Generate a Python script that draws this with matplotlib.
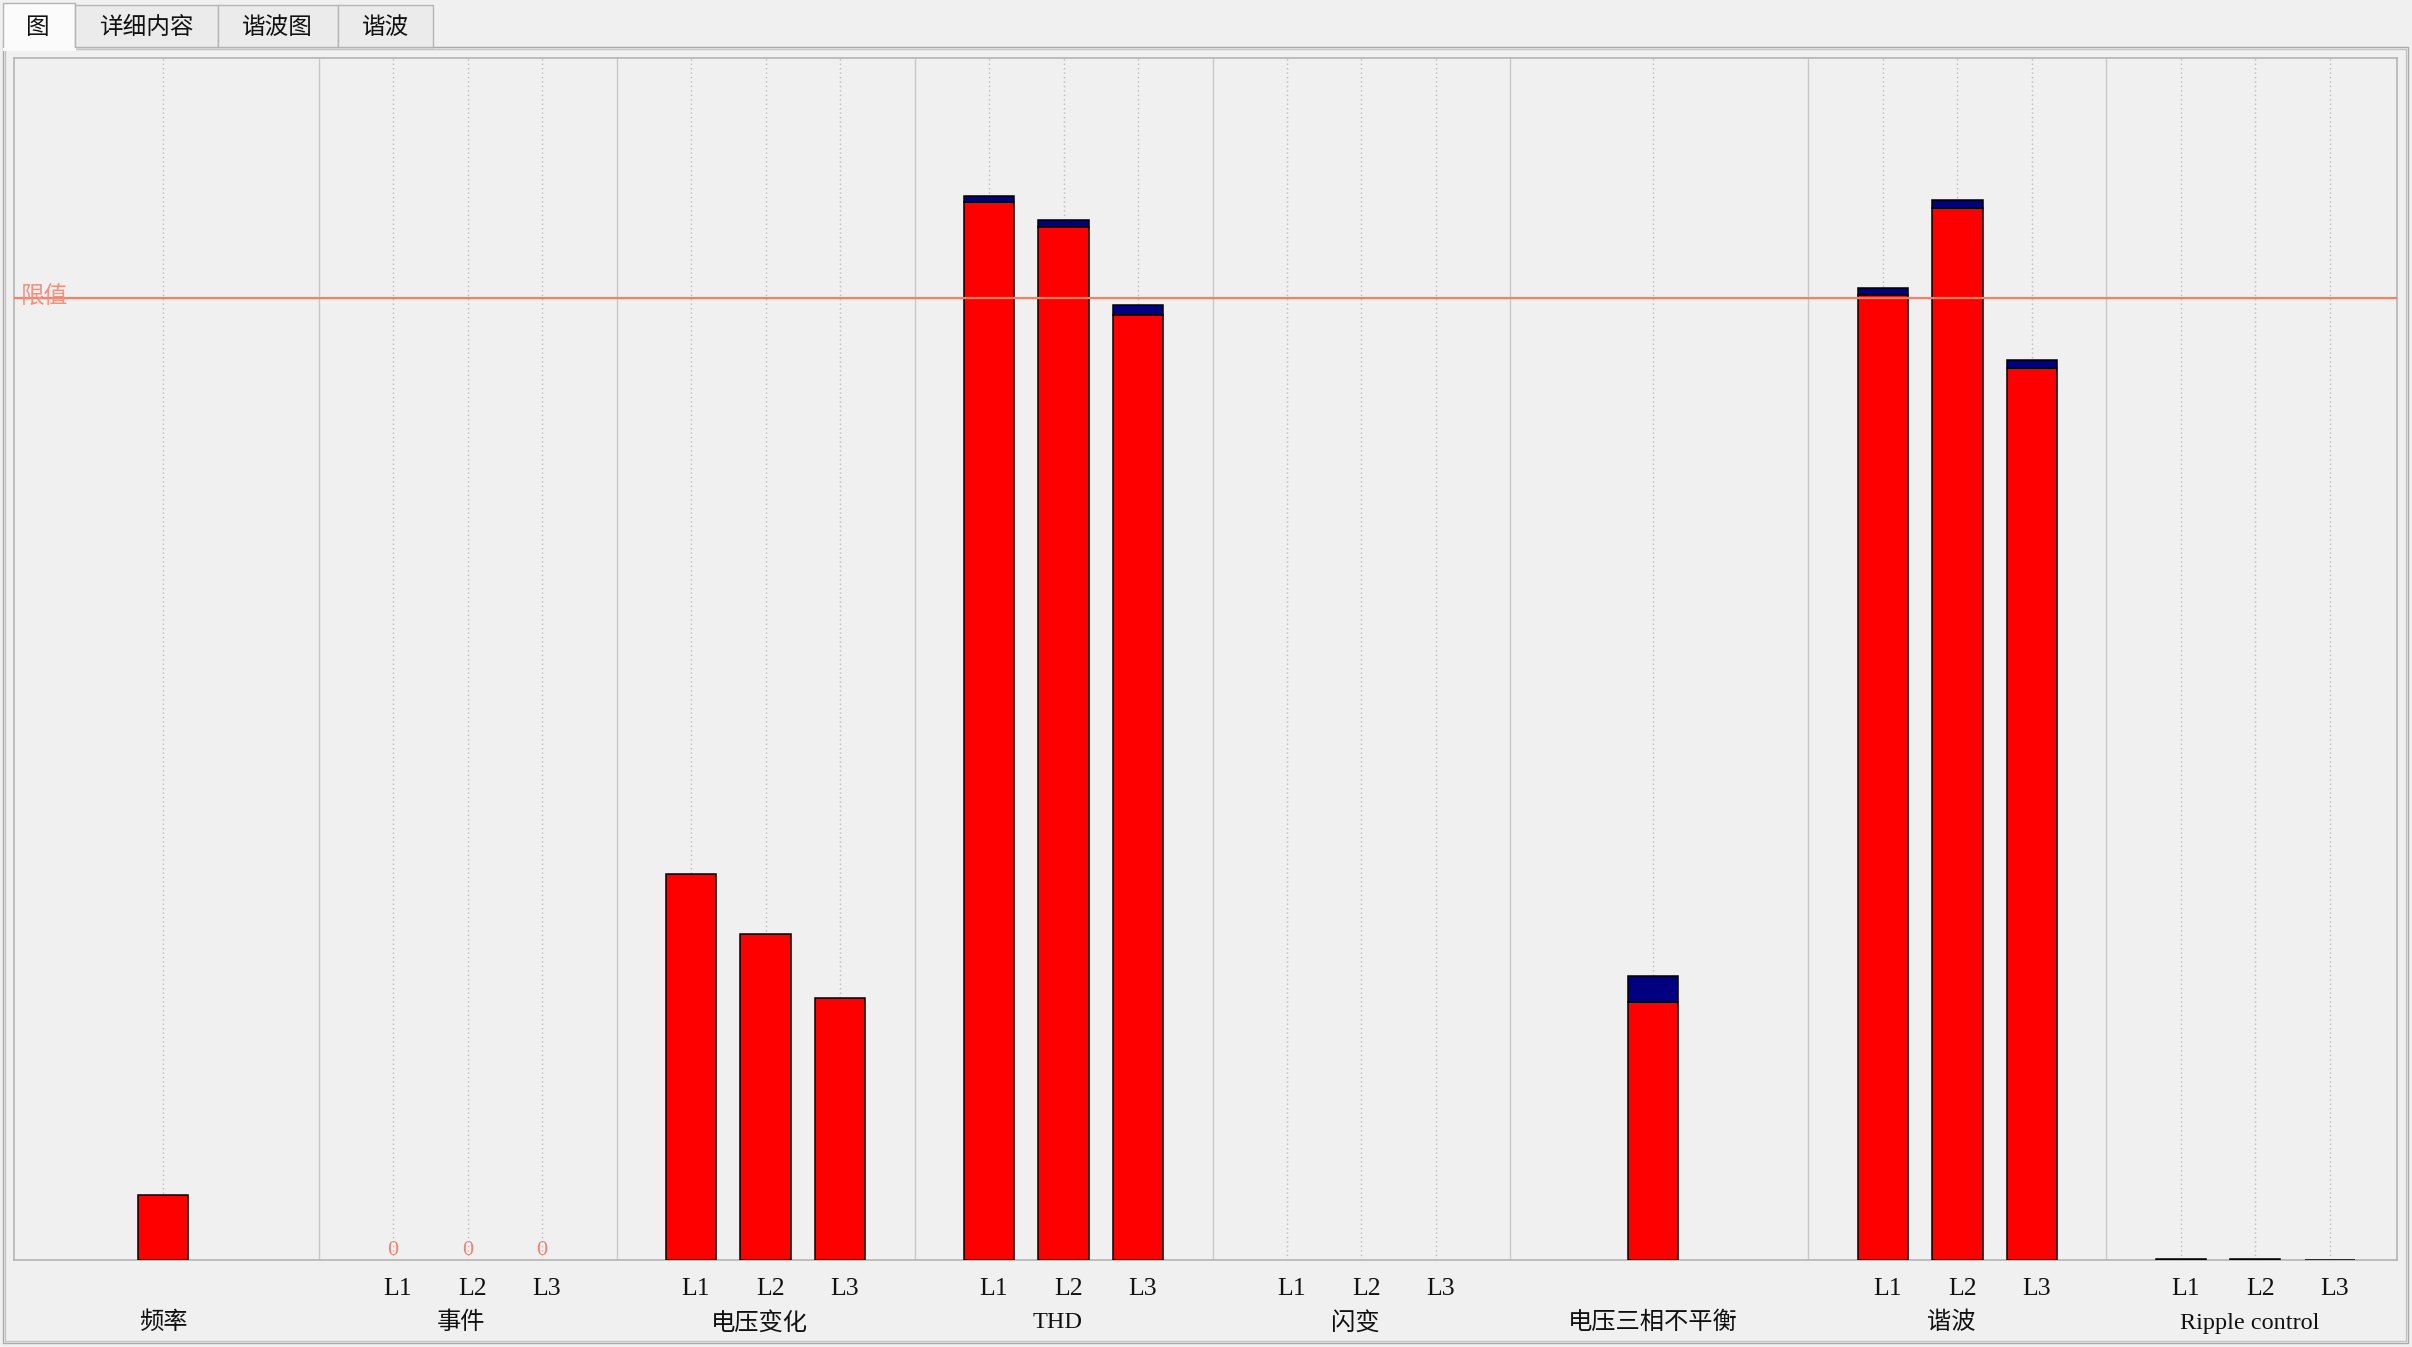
import matplotlib
matplotlib.use("Agg")
import matplotlib.pyplot as plt
from matplotlib.patches import Rectangle
from matplotlib.lines import Line2D

# ---------------- data ----------------
categories = ['频率', '事件', '电压变化', 'THD', '闪变', '电压三相不平衡', '谐波', 'Ripple control']
phases = ['L1', 'L2', 'L3']
tabs = ['图', '详细内容', '谐波图', '谐波']

freq_main = [6.75]
event_values = [0, 0, 0]
voltage_change_main = [40.1, 33.85, 27.2]
thd_main = [110.0, 107.4, 98.3]
thd_extra = [0.62, 0.73, 1.03]
flicker_main = []
unbalance_main = [26.8]
unbalance_extra = [2.7]
harmonic_main = [100.35, 109.4, 92.8]
harmonic_extra = [0.75, 0.82, 0.83]
ripple_main = [0.12, 0.12, 0.02]

limit_value = 100
limit_label = '限值'
y_max = 125

main_series = [freq_main, None, voltage_change_main, thd_main, flicker_main,
               unbalance_main, harmonic_main, ripple_main]
extra_series = [None, None, None, thd_extra, None, unbalance_extra, harmonic_extra, None]
phase_labelled = [False, True, True, True, True, False, True, True]

# ---------------- figure ----------------
W, H = 2412, 1347
BG = '#f0f0f0'
fig = plt.figure(figsize=(W / 100, H / 100), dpi=100, facecolor=BG)

LAT = ['Liberation Serif', 'Noto Sans CJK SC', 'DejaVu Sans']
CJK = ['Noto Sans CJK SC', 'DejaVu Sans']

def fx(px):
    return px / W

def fy(py):
    return 1 - py / H

# outer tab panel frame
fig.patches.append(Rectangle((fx(3), fy(1343)), fx(2408 - 3), (1343 - 47) / H,
                             transform=fig.transFigure, fill=False,
                             edgecolor='#a9a9a9', lw=1.0, zorder=1))
fig.patches.append(Rectangle((fx(5), fy(1341)), fx(2406 - 5), (1341 - 49) / H,
                             transform=fig.transFigure, fill=False,
                             edgecolor='#c4c4c4', lw=1.0, zorder=1))

# tabs
tab_edges = [3, 75, 218, 338, 433]
tab_text_x = [38, 146, 277.5, 386]
for i, name in enumerate(tabs):
    x0, x1 = tab_edges[i], tab_edges[i + 1]
    if i == 0:
        top, bot, fc = 3, 48.5, '#fbfbfb'
    else:
        top, bot, fc = 5, 47, '#ebebeb'
    fig.patches.append(Rectangle((fx(x0), fy(bot)), fx(x1 - x0), (bot - top) / H,
                                 transform=fig.transFigure, facecolor=fc,
                                 edgecolor='#b4b4b4', lw=1.0, zorder=3))
    fig.text(fx(tab_text_x[i]), fy(27), name, ha='center', va='center',
             fontsize=17, family=CJK, color='#111111', zorder=4)
# hide the bottom border of the selected tab
fig.lines.append(Line2D([fx(4), fx(74)], [fy(48.5), fy(48.5)], transform=fig.transFigure,
                        color='#fbfbfb', lw=2.2, zorder=5))

# ---------------- axes ----------------
ax_left, ax_right, ax_top, ax_bottom = 14, 2397, 58, 1260
ax = fig.add_axes([fx(ax_left), fy(ax_bottom), fx(ax_right - ax_left), (ax_bottom - ax_top) / H])
ax.set_facecolor(BG)
n = len(categories)
ax.set_xlim(-0.522, n - 0.525)
ax.set_ylim(0, y_max)
ax.set_xticks([])
ax.set_yticks([])
for s in ax.spines.values():
    s.set_color('#b4b4b4')
    s.set_linewidth(1.2)

# category separators
for i in range(n - 1):
    ax.axvline(i + 0.5, color='#c8c8c8', lw=1.0, zorder=1)

offset = 0.25
bar_w = 0.168
single_shift = -0.021
phase_label_shift = 0.016
RED = '#ff0000'
NAVY = '#000080'

def positions(i, k):
    if k == 1:
        return [i + single_shift]
    return [i + (j - 1) * offset for j in range(3)]

for i, cat in enumerate(categories):
    mains = main_series[i]
    extras = extra_series[i]
    if phase_labelled[i]:
        xs = positions(i, 3)
    else:
        xs = positions(i, 1)
    # dotted guide lines
    for x in xs:
        ax.axvline(x, color='#bcbcbc', lw=1.0, ls=(0, (1, 2.2)), zorder=1)
    if mains:
        xb = xs[:len(mains)]
        ax.bar(xb, mains, width=bar_w, color=RED, edgecolor='black', lw=1.1, zorder=3)
        if extras:
            ax.bar(xb, extras, width=bar_w, bottom=mains, color=NAVY,
                   edgecolor='black', lw=1.1, zorder=3)
    # phase labels
    if phase_labelled[i]:
        for x, ph in zip(xs, phases):
            ax.annotate(ph, xy=(x + phase_label_shift, 0), xycoords=('data', 'axes fraction'),
                        xytext=(0, -29 * 0.72), textcoords='offset points',
                        ha='center', va='center', fontsize=18.5, family=LAT, color='#111111')
    ax.annotate(cat, xy=(i + single_shift, 0), xycoords=('data', 'axes fraction'),
                xytext=(0, -63 * 0.72), textcoords='offset points',
                ha='center', va='center', fontsize=17.5, family=LAT, color='#111111')

# event zero labels
for x, v in zip(positions(1, 3), event_values):
    ax.text(x, v, str(v), ha='center', va='bottom', fontsize=16,
            family=LAT, color='#f4826e', zorder=4)

# limit line
ax.axhline(limit_value, color='#fa7f62', lw=1.6, zorder=4)
ax.annotate(limit_label, xy=(0, limit_value), xycoords=('axes fraction', 'data'),
            xytext=(7 * 0.72, 1), textcoords='offset points', ha='left', va='center',
            fontsize=17, family=CJK, color='#f5907f', zorder=5)

fig.savefig('out.png', dpi=100, facecolor=BG)
